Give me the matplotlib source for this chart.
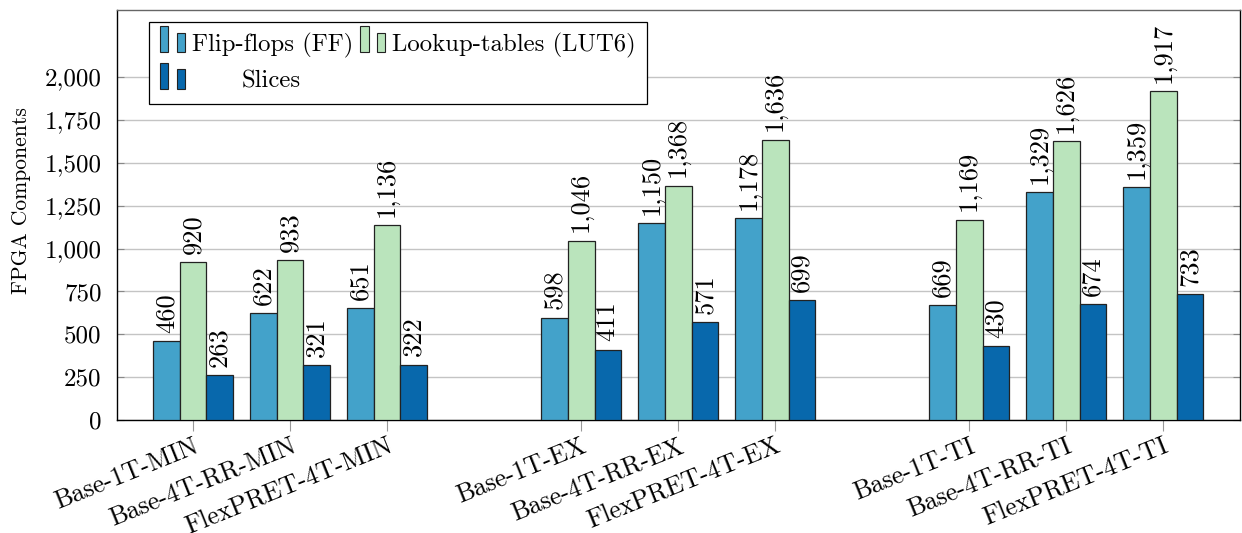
import numpy as np
import matplotlib
matplotlib.use("Agg")
import matplotlib.pyplot as plt
from matplotlib.patches import Rectangle
from matplotlib.legend_handler import HandlerBase
from matplotlib.ticker import FuncFormatter

plt.rcParams['font.family'] = ['cmr10', 'DejaVu Serif']
plt.rcParams['axes.formatter.use_mathtext'] = True

configs = ["Base-1T-MIN", "Base-4T-RR-MIN", "FlexPRET-4T-MIN",
           "Base-1T-EX", "Base-4T-RR-EX", "FlexPRET-4T-EX",
           "Base-1T-TI", "Base-4T-RR-TI", "FlexPRET-4T-TI"]
flip_flops = [460, 622, 651, 598, 1150, 1178, 669, 1329, 1359]
luts = [920, 933, 1136, 1046, 1368, 1636, 1169, 1626, 1917]
slices = [263, 321, 322, 411, 571, 699, 430, 674, 733]

series = [("Flip-flops (FF)", flip_flops, "#43a2ca"),
          ("Lookup-tables (LUT6)", luts, "#bae4bc"),
          ("Slices", slices, "#0868ac")]

# three configs per group, one empty slot between groups
pos = np.array([i + i // 3 for i in range(len(configs))], dtype=float)
width = 0.275


class PairHandler(HandlerBase):
    # pgfplots-style ybar legend image: two little bars
    def create_artists(self, legend, orig_handle, xdescent, ydescent,
                       width, height, fontsize, trans):
        fc = orig_handle.get_facecolor()
        w = width * 0.33
        y0 = -ydescent - 0.05 * height
        r1 = Rectangle((-xdescent, y0), w, height * 1.5, fc=fc, ec="#222222",
                       lw=0.8, transform=trans)
        r2 = Rectangle((-xdescent + width * 0.67, y0), w, height * 1.15, fc=fc,
                       ec="#222222", lw=0.8, transform=trans)
        return [r1, r2]


fig = plt.figure(figsize=(12.42, 5.33), dpi=100)
ax = fig.add_axes([117 / 1242, 1 - 420 / 533, 1123 / 1242, 410 / 533])

handles = []
for k, (name, vals, color) in enumerate(series):
    bars = ax.bar(pos + (k - 1) * width, vals, width, color=color,
                  edgecolor="#222222", linewidth=0.9, label=name, zorder=3)
    handles.append(bars[0])
    for b, v in zip(bars, vals):
        ax.annotate(f"{v:,}", (b.get_x() + b.get_width() / 2, v),
                    xytext=(0, 6), textcoords="offset points",
                    rotation=90, ha="center", va="bottom", fontsize=19)

ax.set_xlim(-0.784, 10.79)
ax.set_ylim(0, 2392)
ax.set_yticks(np.arange(0, 2001, 250))
ax.yaxis.set_major_formatter(FuncFormatter(lambda v, p: f"{int(v):,}"))
ax.yaxis.grid(True, color="#c4c4c4", linewidth=1.0, zorder=0)
ax.set_axisbelow(True)
ax.tick_params(axis="y", direction="in", length=5, color="#888888",
               labelsize=18, right=True, pad=11)

ax.set_xticks(pos)
ax.set_xticklabels(configs, rotation=22, ha="right", va="top",
                   rotation_mode="anchor", fontsize=18.5)
ax.tick_params(axis="x", direction="out", length=8, color="#999999", pad=2)
ax.set_ylabel("FPGA Components", fontsize=15.5)
ax.yaxis.set_label_coords(-0.0765, 0.534)

for s in ax.spines.values():
    s.set_linewidth(1.0)
    s.set_color("black")
ax.spines["top"].set_color("#666666")

# row-wise order: FF, LUT6 on the first row, Slices below FF
order = [0, 2, 1]
leg = ax.legend([handles[i] for i in order], [series[i][0] for i in order],
                ncol=2, loc="upper left", bbox_to_anchor=(0.0285, 0.971),
                borderaxespad=0, fontsize=17.8, fancybox=False, framealpha=1,
                edgecolor="black", handler_map={h: PairHandler() for h in handles},
                handlelength=1.0, handletextpad=0.28, columnspacing=0.3,
                labelspacing=0.5, borderpad=0.45)
leg.get_frame().set_linewidth(0.9)
leg.texts[1].set_position((50, 0))

fig.savefig("out.png", dpi=100)
